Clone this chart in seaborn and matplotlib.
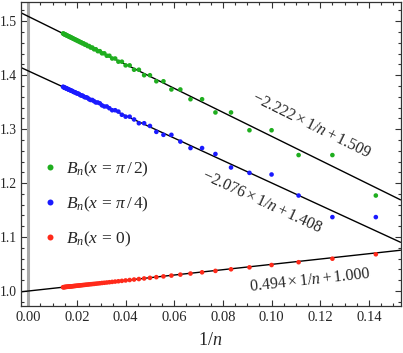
import numpy as np
import pandas as pd
import matplotlib
matplotlib.use("Agg")
import matplotlib.pyplot as plt
import seaborn as sns
from matplotlib.ticker import MultipleLocator, FormatStrFormatter

# n = 7 ... 70, plotted against 1/n
n = np.arange(7, 71)

b_half = [1.177, 1.252, 1.252, 1.298, 1.298, 1.331, 1.331, 1.3555, 1.3555, 1.3736,
          1.3736, 1.3888, 1.3888, 1.4000, 1.4000, 1.4102, 1.4102, 1.4183, 1.4183, 1.4251,
          1.4251, 1.4310, 1.4310, 1.4361, 1.4361, 1.4406, 1.4406, 1.4446, 1.4446, 1.4481,
          1.4481, 1.4513, 1.4513, 1.4541, 1.4541, 1.4567, 1.4567, 1.4591, 1.4591, 1.4612,
          1.4612, 1.4632, 1.4632, 1.4650, 1.4650, 1.4667, 1.4667, 1.4682, 1.4682, 1.4697,
          1.4697, 1.4710, 1.4710, 1.4723, 1.4723, 1.4734, 1.4734, 1.4746, 1.4746, 1.4756,
          1.4756, 1.4766, 1.4766, 1.4775]

b_quarter = [1.137, 1.137, 1.177, 1.216, 1.219, 1.229, 1.254, 1.265, 1.265, 1.277,
             1.2895, 1.2895, 1.295, 1.306, 1.311, 1.311, 1.318, 1.3232, 1.3232, 1.3267,
             1.3326, 1.3351, 1.3351, 1.3388, 1.3421, 1.3421, 1.3441, 1.3479, 1.3495, 1.3495,
             1.3519, 1.3541, 1.3541, 1.3555, 1.3580, 1.3591, 1.3591, 1.3608, 1.3624, 1.3624,
             1.3634, 1.3652, 1.3661, 1.3661, 1.3673, 1.3685, 1.3685, 1.3693, 1.3705, 1.3713,
             1.3713, 1.3722, 1.3731, 1.3731, 1.3738, 1.3747, 1.3753, 1.3753, 1.3761, 1.3768,
             1.3768, 1.3773, 1.3781, 1.3786]

b_zero = [1.0681, 1.0599, 1.0534, 1.0482, 1.0439, 1.0403, 1.0373, 1.0347, 1.0324, 1.0304,
          1.0286, 1.0271, 1.0257, 1.0244, 1.0233, 1.0222, 1.0213, 1.0204, 1.0196, 1.0188,
          1.0181, 1.0175, 1.0169, 1.0163, 1.0158, 1.0153, 1.0149, 1.0144, 1.0140, 1.0136,
          1.0132, 1.0129, 1.0126, 1.0123, 1.0120, 1.0117, 1.0114, 1.0112, 1.0109, 1.0107,
          1.0105, 1.0102, 1.0100, 1.0098, 1.0096, 1.0094, 1.0093, 1.0091, 1.0089, 1.0088,
          1.0086, 1.0085, 1.0083, 1.0082, 1.0081, 1.0079, 1.0078, 1.0077, 1.0076, 1.0075,
          1.0073, 1.0072, 1.0071, 1.0070]

labels = [r"$B_n(x\,=\,\pi\,/\,2)$", r"$B_n(x\,=\,\pi\,/\,4)$", r"$B_n(x\,=\,0)$"]
colors = ["#1fae1f", "#1a1aff", "#ff2a1a"]

# fitted lines: slope, intercept
fit_slope = [-2.222, -2.076, 0.494]
fit_icpt = [1.509, 1.408, 1.000]
fit_text = [r"$-2.222\:\times\:1/n\:+\:1.509$",
            r"$-2.076\:\times\:1/n\:+\:1.408$",
            r"$0.494\:\times\:1/n\:+\:1.000$"]

df = pd.DataFrame({
    "inv_n": np.concatenate([1 / n] * 3),
    "B": np.concatenate([b_half, b_quarter, b_zero]),
    "series": np.repeat(labels, len(n)),
})

sns.set_style("ticks")
plt.rcParams["font.family"] = ["Liberation Serif", "DejaVu Serif"]
plt.rcParams["mathtext.fontset"] = "custom"
plt.rcParams["mathtext.rm"] = "Liberation Serif"
plt.rcParams["mathtext.it"] = "Liberation Serif:italic"

fig = plt.figure(figsize=(4.03, 3.53), dpi=100)
ax = fig.add_axes([0.0509, 0.1331, 0.9429, 0.8621])

ax.axvline(0, color="#a8a8a8", lw=2.2, zorder=1)
for m, b in zip(fit_slope, fit_icpt):
    ax.axline((0, b), slope=m, color="black", lw=1.0, zorder=2)

sns.scatterplot(data=df, x="inv_n", y="B", hue="series", hue_order=labels,
                palette=colors, s=11, linewidth=0, ax=ax, zorder=3)

# fit annotations along the lines
ax.text(0.1162, 1.3059, fit_text[0], rotation=-26.2, ha="center", va="center",
        rotation_mode="anchor", fontsize=11.5)
ax.text(0.0960, 1.1650, fit_text[1], rotation=-24.7, ha="center", va="center",
        rotation_mode="anchor", fontsize=11.5)
ax.text(0.1159, 1.0204, fit_text[2], rotation=6.25, ha="center", va="center",
        rotation_mode="anchor", fontsize=11.5)

ax.set_xlim(-0.0032, 0.153)
ax.set_ylim(0.9722, 1.5363)
ax.xaxis.set_major_locator(MultipleLocator(0.02))
ax.xaxis.set_minor_locator(MultipleLocator(0.005))
ax.yaxis.set_major_locator(MultipleLocator(0.1))
ax.yaxis.set_minor_locator(MultipleLocator(0.02))
ax.xaxis.set_major_formatter(FormatStrFormatter("%.2f"))
ax.yaxis.set_major_formatter(FormatStrFormatter("%.1f"))
ax.tick_params(which="both", direction="in", top=True, right=True, width=0.8,
               color="#333333")
ax.tick_params(axis="x", labelsize=10.5, pad=3.5)
ax.tick_params(axis="y", labelsize=9.8, pad=2.5)
ax.tick_params(which="major", length=4.5)
ax.tick_params(which="minor", length=2.5)
for sp in ax.spines.values():
    sp.set_color("#333333")
    sp.set_linewidth(0.9)

ax.set_xlabel(r"$1/n$", fontsize=13, labelpad=6)
ax.set_ylabel("")

ax.legend(loc="center left", bbox_to_anchor=(0.056, 0.335), frameon=False,
          fontsize=12.5, borderpad=0, handlelength=1.0, handletextpad=0.4,
          labelspacing=0.9, markerscale=1.3, borderaxespad=0)

fig.savefig("out.png", dpi=100)
